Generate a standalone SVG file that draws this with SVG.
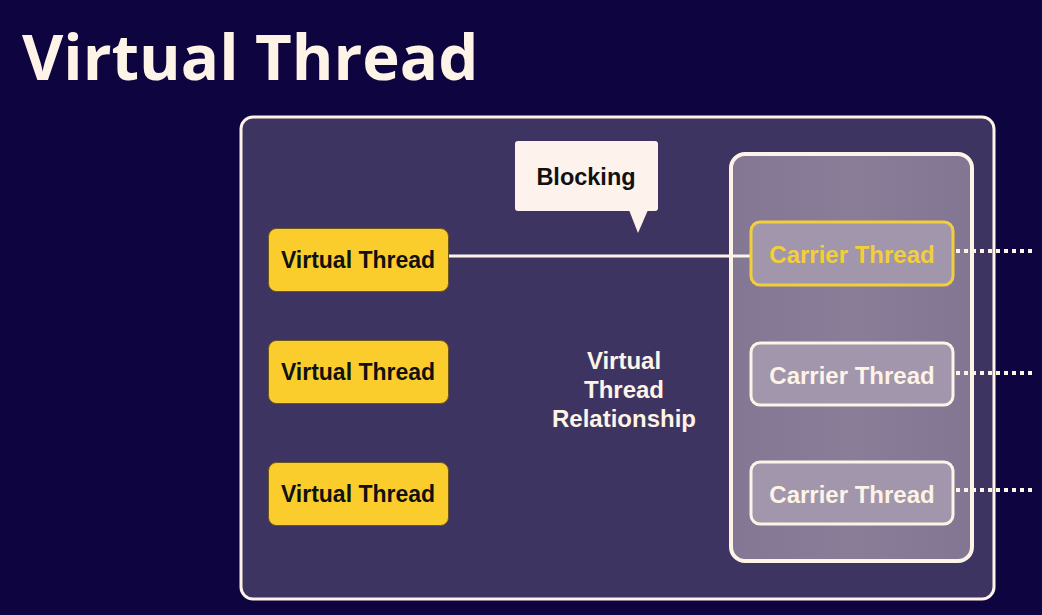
<svg xmlns="http://www.w3.org/2000/svg" width="1042" height="615" viewBox="0 0 1042 615">
<defs>
<style>
.vt rect{fill:#fbcd2c;stroke:#6b5520;stroke-width:1}
.vt text{font-family:"Liberation Sans",Arial,sans-serif;font-weight:bold;font-size:23px;fill:#111;text-anchor:middle}
.ct rect{fill:#a196ab;stroke:#fdf3e7;stroke-width:3}
.ct text{font-family:"Liberation Sans",Arial,sans-serif;font-weight:bold;font-size:24px;fill:#fdf3e7;text-anchor:middle}
.dot{stroke:#fdf3e7;stroke-width:4;stroke-dasharray:4 4;fill:none}
</style>
<linearGradient id="cg" x1="0" y1="0" x2="1" y2="0">
<stop offset="0" stop-color="#847794"/>
<stop offset="0.5" stop-color="#8a7d98"/>
<stop offset="1" stop-color="#837693"/>
</linearGradient>
</defs>
<rect x="0" y="0" width="1042" height="615" fill="#0e0440"/>
<text x="22" y="80" font-family="'Open Sans','Noto Sans',sans-serif" font-weight="bold" font-size="63.5" fill="#fdf3e7">Virtual Thread</text>
<g id="panel">
<rect x="241" y="117" width="753" height="482" rx="12" fill="#3e3461" stroke="#fdf3e7" stroke-width="3"/>
</g>
<g id="carrier-pool">
<rect x="731" y="154" width="241" height="407" rx="14" fill="url(#cg)" stroke="#fdf3e7" stroke-width="4"/>
</g>
<g id="relationship-label" font-family="'Liberation Sans',Arial,sans-serif" font-weight="bold" font-size="24" fill="#fdf3e7" text-anchor="middle">
<text x="624" y="369">Virtual</text>
<text x="624" y="398">Thread</text>
<text x="624" y="427">Relationship</text>
</g>
<g id="connectors">
<line x1="449" y1="256" x2="750" y2="256" stroke="#fdf3e7" stroke-width="3"/>
<line class="dot" x1="956" y1="251" x2="1036" y2="251"/>
<line class="dot" x1="956" y1="373" x2="1036" y2="373"/>
<line class="dot" x1="956" y1="490" x2="1036" y2="490"/>
</g>
<g id="blocking">
<rect x="515" y="141" width="143" height="70" rx="3" fill="#fdf3ec"/>
<polygon points="629,210 648,210 638,233" fill="#fdf3ec"/>
<text x="586" y="185" font-family="'Liberation Sans',Arial,sans-serif" font-weight="bold" font-size="23.5" fill="#111" text-anchor="middle">Blocking</text>
</g>
<g id="vt1" class="vt"><rect x="268.5" y="228.5" width="180" height="63" rx="8"/><text x="358" y="268">Virtual Thread</text></g>
<g id="vt2" class="vt"><rect x="268.5" y="340.5" width="180" height="63" rx="8"/><text x="358" y="380">Virtual Thread</text></g>
<g id="vt3" class="vt"><rect x="268.5" y="462.5" width="180" height="63" rx="8"/><text x="358" y="502">Virtual Thread</text></g>
<g id="ct1" class="ct"><rect x="751" y="222" width="202" height="63" rx="9" style="stroke:#f2cf3a"/><text x="852" y="263" style="fill:#f2cf3a">Carrier Thread</text></g>
<g id="ct2" class="ct"><rect x="751" y="343" width="202" height="62" rx="9"/><text x="852" y="384">Carrier Thread</text></g>
<g id="ct3" class="ct"><rect x="751" y="462" width="202" height="62" rx="9"/><text x="852" y="503">Carrier Thread</text></g>
</svg>
